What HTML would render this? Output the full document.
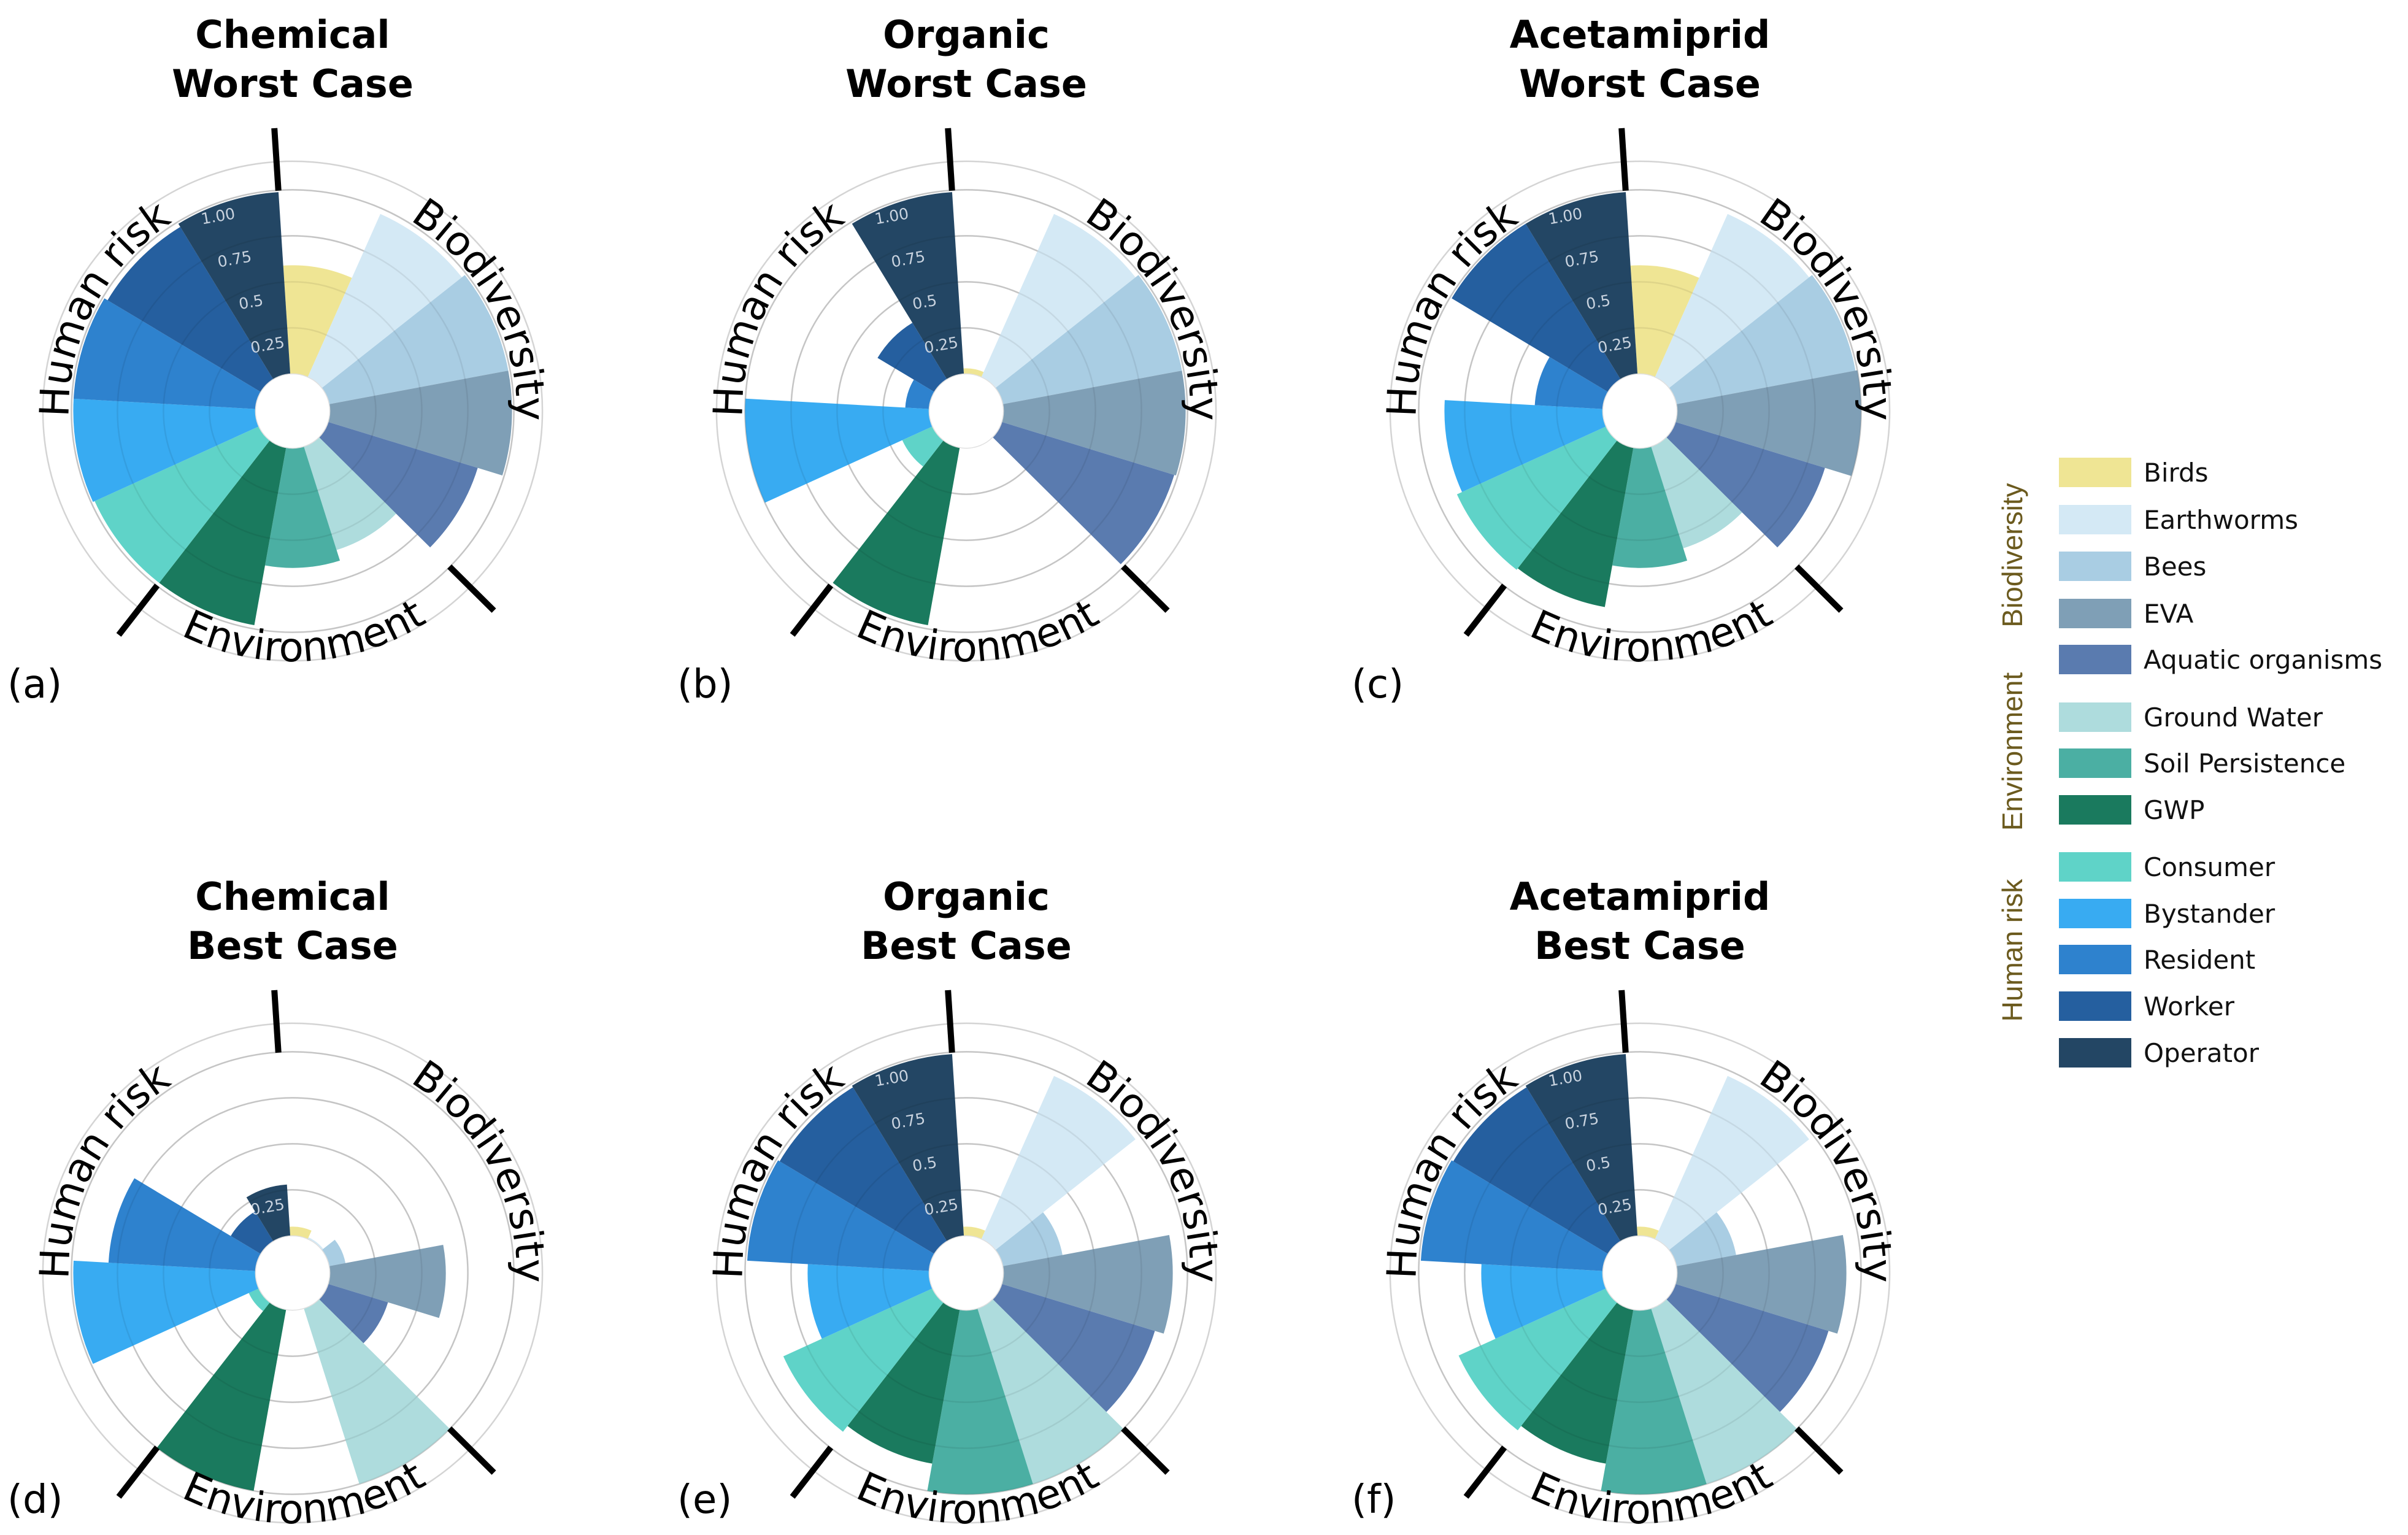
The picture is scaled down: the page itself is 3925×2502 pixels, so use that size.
<!DOCTYPE html>
<html>
<head>
<meta charset="utf-8">
<style>
  html,body{margin:0;padding:0;background:#fff;}
  svg{display:block;}
  text{font-family:"DejaVu Sans","Liberation Sans",sans-serif;}
</style>
</head>
<body>
<svg id="fig" xmlns="http://www.w3.org/2000/svg" width="3925" height="2502" viewBox="0 0 3925 2502">
  <rect x="0" y="0" width="3925" height="2502" fill="#ffffff"/>
  <g id="panels"></g>
  <g id="legend">
    <text x="3284" y="905" transform="rotate(-90 3284 905)" text-anchor="middle" dominant-baseline="middle" font-size="46" fill="#6b5a1e" style="font-family:'Liberation Sans',sans-serif">Biodiversity</text>
    <text x="3284" y="1225" transform="rotate(-90 3284 1225)" text-anchor="middle" dominant-baseline="middle" font-size="46" fill="#6b5a1e" style="font-family:'Liberation Sans',sans-serif">Environment</text>
    <text x="3284" y="1549" transform="rotate(-90 3284 1549)" text-anchor="middle" dominant-baseline="middle" font-size="46" fill="#6b5a1e" style="font-family:'Liberation Sans',sans-serif">Human risk</text>
  </g>
</svg>
<script>
const categories = ["Birds","Earthworms","Bees","EVA","Aquatic organisms","Ground Water","Soil Persistence","GWP","Consumer","Bystander","Resident","Worker","Operator"];
const colors = ["#efe594","#d4e9f5","#a9cde3","#7f9fb6","#5a7baf","#aedcdd","#4bafa3","#1a7a5e","#5fd3c8","#38abf2","#2e82ce","#255f9f","#234664"];
const chemicalWorst = [0.59,0.97,0.99,0.99,0.85,0.59,0.65,0.98,0.98,0.99,0.99,0.97,0.99];
const organicWorst = [0.03,0.97,0.99,0.99,0.98,0,0,0.98,0.18,1.0,0.13,0.36,0.99];
const acetamipridWorst = [0.59,0.97,0.99,1.0,0.85,0.58,0.65,0.88,0.89,0.86,0.37,0.99,0.99];
const chemicalBest = [0.05,0.01,0.09,0.63,0.34,1.0,0,1.0,0.06,0.99,0.80,0.19,0.28];
const organicBest = [0.05,0.97,0.33,0.92,0.87,1.0,1.0,0.85,0.89,0.66,0.99,0.98,0.99];
const acetamipridBest = [0.05,0.97,0.33,0.92,0.87,1.0,1.0,0.85,0.88,0.66,0.99,0.98,0.99];
const tickValues = [0.25,0.5,0.75,1.0];
const tickLabels = ["0.25","0.5","0.75","1.00"];
const panelTitles1 = ["Chemical","Organic","Acetamiprid","Chemical","Organic","Acetamiprid"];
const panelTitles2 = ["Worst Case","Worst Case","Worst Case","Best Case","Best Case","Best Case"];
const panelLetters = ["(a)","(b)","(c)","(d)","(e)","(f)"];

const NS = "http://www.w3.org/2000/svg";
const panelsG = document.getElementById("panels");
const panelData = [chemicalWorst, organicWorst, acetamipridWorst, chemicalBest, organicBest, acetamipridBest];
const colX = [477, 1575, 2673];
const rowY = [670, 2075];
const R0 = 60.6, UNIT = 300, OFF = -3.7;
const STEP = 360 / categories.length;

function rScale(v){ return R0 + v * UNIT; }
function pt(cx, cy, r, deg){ const a = deg * Math.PI / 180; return [cx + r * Math.sin(a), cy - r * Math.cos(a)]; }
function mk(tag, attrs){ const e = document.createElementNS(NS, tag); for (const k in attrs) e.setAttribute(k, attrs[k]); return e; }

function wedge(cx, cy, r, a0, a1){
  const p0 = pt(cx, cy, r, a0), p1 = pt(cx, cy, r, a1);
  return `M${cx},${cy} L${p0[0]},${p0[1]} A${r},${r} 0 0 1 ${p1[0]},${p1[1]} Z`;
}
function arcPath(cx, cy, r, a0, a1, cw){
  const p0 = pt(cx, cy, r, a0), p1 = pt(cx, cy, r, a1);
  const large = Math.abs(a1 - a0) > 180 ? 1 : 0;
  return `M${p0[0]},${p0[1]} A${r},${r} 0 ${large} ${cw ? 1 : 0} ${p1[0]},${p1[1]}`;
}

panelData.forEach((vals, pi) => {
  const cx = colX[pi % 3], cy = rowY[Math.floor(pi / 3)];
  const g = mk("g", {});
  
  
  panelsG.appendChild(g);
  const defs = mk("defs", {});
  g.appendChild(defs);

  const tBase = cy - 592;
  const t1 = mk("text", {x: cx, y: tBase, "text-anchor": "middle", "font-size": 62, "font-weight": "bold", fill: "#000"});
  
  
  t1.textContent = panelTitles1[pi];
  g.appendChild(t1);
  const t2 = mk("text", {x: cx, y: tBase + 80, "text-anchor": "middle", "font-size": 62, "font-weight": "bold", fill: "#000"});
  
  
  t2.textContent = panelTitles2[pi];
  g.appendChild(t2);

  const ringVals = tickValues.concat([1.155]);
  ringVals.forEach(v => {
    const c = mk("circle", {cx: cx, cy: cy, r: rScale(v), fill: "none", stroke: "#d4d4d4", "stroke-width": 2.5});
    
    
    g.appendChild(c);
  });

  const clip = mk("clipPath", {id: "barclip-" + pi});
  defs.appendChild(clip);
  vals.forEach((v, i) => {
    if (v <= 0) return;
    const a0 = OFF + i * STEP, a1 = OFF + (i + 1) * STEP;
    const d = wedge(cx, cy, rScale(v), a0, a1);
    const p = mk("path", {d: d, fill: colors[i]});
    
    
    g.appendChild(p);
    clip.appendChild(mk("path", {d: d}));
  });

  tickValues.forEach(v => {
    const c = mk("circle", {cx: cx, cy: cy, r: rScale(v), fill: "none", stroke: "rgba(0,0,0,0.07)", "stroke-width": 2.5});
    
    
    g.appendChild(c);
  });

  const hole = mk("circle", {cx: cx, cy: cy, r: R0, fill: "#fff", stroke: "#e0e0e0", "stroke-width": 1.5});
  
  
  g.appendChild(hole);

  const tickG = mk("g", {"clip-path": "url(#barclip-" + pi + ")"});
  
  
  g.appendChild(tickG);
  tickValues.forEach((v, k) => {
    const p = pt(cx, cy, rScale(v) - 22, -21);
    const tx = mk("text", {x: p[0], y: p[1], "text-anchor": "middle", "dominant-baseline": "middle", "font-size": 25, fill: "#c9d3df", transform: `rotate(-10 ${p[0]} ${p[1]})`});
    
    
    tx.textContent = tickLabels[k];
    tickG.appendChild(tx);
  });

  [OFF, OFF + 5 * STEP, OFF + 8 * STEP].forEach(a => {
    const p0 = pt(cx, cy, 360, a), p1 = pt(cx, cy, 462, a);
    const l = mk("line", {x1: p0[0], y1: p0[1], x2: p1[0], y2: p1[1], stroke: "#000", "stroke-width": 10});
    
    
    g.appendChild(l);
  });

  const labels = [
    {txt: "Human risk", c: 298, r: 365, cw: true, nm: "human-risk"},
    {txt: "Biodiversity", c: 62, r: 365, cw: true, nm: "biodiversity"},
    {txt: "Environment", c: 177, r: 408, cw: false, nm: "environment"}
  ];
  labels.forEach(L => {
    const id = "arc-" + pi + "-" + L.nm;
    const d = L.cw ? arcPath(cx, cy, L.r, L.c - 85, L.c + 85, true) : arcPath(cx, cy, L.r, L.c + 85, L.c - 85, false);
    defs.appendChild(mk("path", {id: id, d: d, fill: "none"}));
    const tx = mk("text", {"font-size": 66, fill: "#000"});
    
    
    const tp = mk("textPath", {href: "#" + id, startOffset: "50%", "text-anchor": "middle"});
    tp.textContent = L.txt;
    tx.appendChild(tp);
    g.appendChild(tx);
  });

  const lx = [12, 1104, 2203][pi % 3];
  const ly = pi < 3 ? 1137 : 2466;
  const lt = mk("text", {x: lx, y: ly, "font-size": 64, fill: "#000"});
  
  
  lt.textContent = panelLetters[pi];
  g.appendChild(lt);
});

const legendY = [770, 847, 923, 1000, 1075, 1169, 1244, 1320, 1413, 1489, 1564, 1640, 1716];
const legendG = document.getElementById("legend");
categories.forEach((c, i) => {
  const r = mk("rect", {x: 3356, y: legendY[i] - 24, width: 118, height: 48, fill: colors[i]});
  
  
  legendG.appendChild(r);
  const t = mk("text", {x: 3494, y: legendY[i] + 15, "font-size": 42, fill: "#111"});
  
  
  t.textContent = c;
  legendG.appendChild(t);
});
</script>
</body>
</html>
